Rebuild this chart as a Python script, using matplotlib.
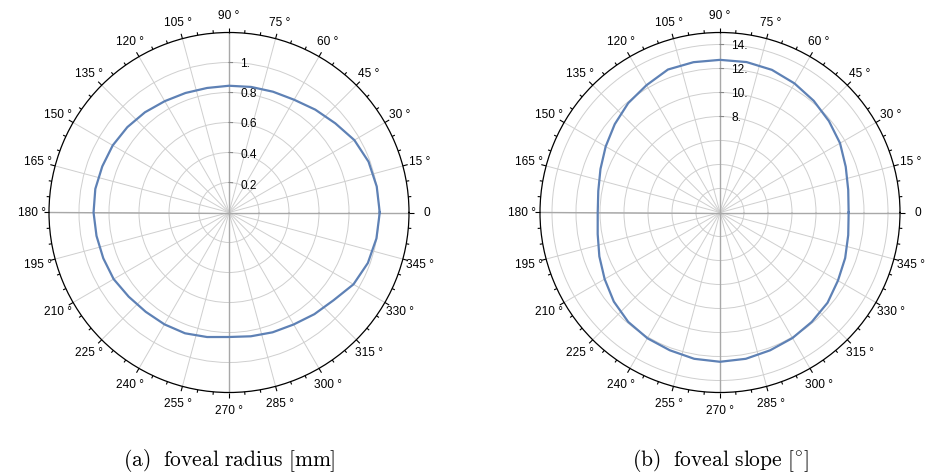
import numpy as np
import matplotlib
matplotlib.use("Agg")
import matplotlib.pyplot as plt

plt.rcParams['font.family'] = ['Liberation Sans', 'DejaVu Sans']
plt.rcParams['mathtext.fontset'] = 'cm'

# angles of the measured points (degrees)
angle_deg = list(range(0, 360, 10))

# (a) foveal radius [mm]
radius_mm = [1.005, 1.0, 0.99, 0.965, 0.925, 0.895, 0.868, 0.857, 0.85, 0.845,
             0.843, 0.848, 0.857, 0.872, 0.885, 0.895, 0.899, 0.905, 0.903, 0.897,
             0.892, 0.888, 0.873, 0.864, 0.861, 0.857, 0.843, 0.83, 0.838, 0.85,
             0.862, 0.885, 0.91, 0.958, 0.985, 0.998]

# (b) foveal slope [deg]
slope_deg = [10.72, 10.85, 11.15, 11.55, 11.85, 12.15, 12.42, 12.65, 12.73, 12.72,
             12.72, 12.68, 12.25, 11.9, 11.45, 11.0, 10.6, 10.3, 10.19, 10.35,
             10.7, 11.1, 11.55, 11.9, 12.1, 12.22, 12.38, 12.44, 12.38, 12.22,
             12.08, 11.9, 11.7, 11.35, 11.1, 10.85]

left_rings = [0.2, 0.4, 0.6, 0.8, 1.0]
left_labels = ["0.2", "0.4", "0.6", "0.8", "1."]
right_rings = [2, 4, 6, 8, 10, 12, 14]
right_ticks = [8, 10, 12, 14]
right_labels = ["8.", "10.", "12.", "14."]

captions = [r'$\mathrm{(a)\ \ foveal\ radius\ [mm]}$',
            r'$\mathrm{(b)\ \ foveal\ slope\ [{}^{\circ}]}$']

line_col = '#5e81b5'
R_PX = 180.0  # outer radius in pixels
FS = 8.6


def polar_panel(ax, theta_deg, values, rmax, rings, tick_vals, tick_labs):
    ax.set_theta_zero_location('E')
    ax.set_ylim(0, rmax)
    ax.set_yticks(rings)
    ax.set_yticklabels([])
    ax.set_xticks(np.deg2rad(np.arange(0, 360, 15)))
    ax.set_xticklabels([])
    ax.tick_params(length=0)
    ax.grid(True, color='#cfcfcf', lw=0.7)
    ax.spines['polar'].set_color('black')
    ax.spines['polar'].set_linewidth(0.9)
    ax.set_facecolor('white')

    # main axes through the origin
    for a in (0, 90, 180, 270):
        t = np.deg2rad(a)
        ax.plot([t, t], [0, rmax], color='#a8a8a8', lw=1.0, zorder=2)

    # ticks on the outer circle
    for a in range(0, 360, 5):
        t = np.deg2rad(a)
        L = 5.0 if a % 15 == 0 else 3.0
        ax.plot([t, t], [rmax, rmax * (1 + L / R_PX)], color='black', lw=0.8,
                clip_on=False, zorder=3, solid_capstyle='butt')

    # angle labels
    for a in range(0, 360, 15):
        t = np.deg2rad(a)
        lab = "0" if a == 0 else "%d °" % a
        ax.text(t, rmax * (1 + 17.5 / R_PX), lab, ha='center', va='center',
                fontsize=FS, clip_on=False)

    # radial ticks and labels on the vertical axis
    for v, lab in zip(tick_vals, tick_labs):
        rp = v / rmax * R_PX
        dt = 3.5 / rp
        ax.plot([np.pi / 2, np.pi / 2 - dt], [v, v], color='#888888', lw=0.8, zorder=3)
        ax.text(np.pi / 2 - 11.5 / rp, v, lab, ha='left', va='center', fontsize=FS,
                zorder=4)

    th = np.deg2rad(np.array(theta_deg + [theta_deg[0]]))
    vv = np.array(values + [values[0]])
    ax.plot(th, vv, color=line_col, lw=1.6, zorder=5)


fig = plt.figure(figsize=(9.27, 4.77), dpi=100)
W, H = 927.0, 477.0
centers = [(229, 213.5), (720, 213.5)]
axes = []
for cx, cy in centers:
    rect = [(cx - R_PX) / W, (H - cy - R_PX) / H, 2 * R_PX / W, 2 * R_PX / H]
    axes.append(fig.add_axes(rect, projection='polar'))

polar_panel(axes[0], angle_deg, radius_mm, 1.2, left_rings, left_rings, left_labels)
polar_panel(axes[1], angle_deg, slope_deg, 15.0, right_rings, right_ticks, right_labels)

for (cx, cy), cap in zip(centers, captions):
    fig.text(cx / W, 1 - 461 / H, cap, ha='center', va='center', fontsize=15.5)

fig.savefig('out.png', dpi=100)
